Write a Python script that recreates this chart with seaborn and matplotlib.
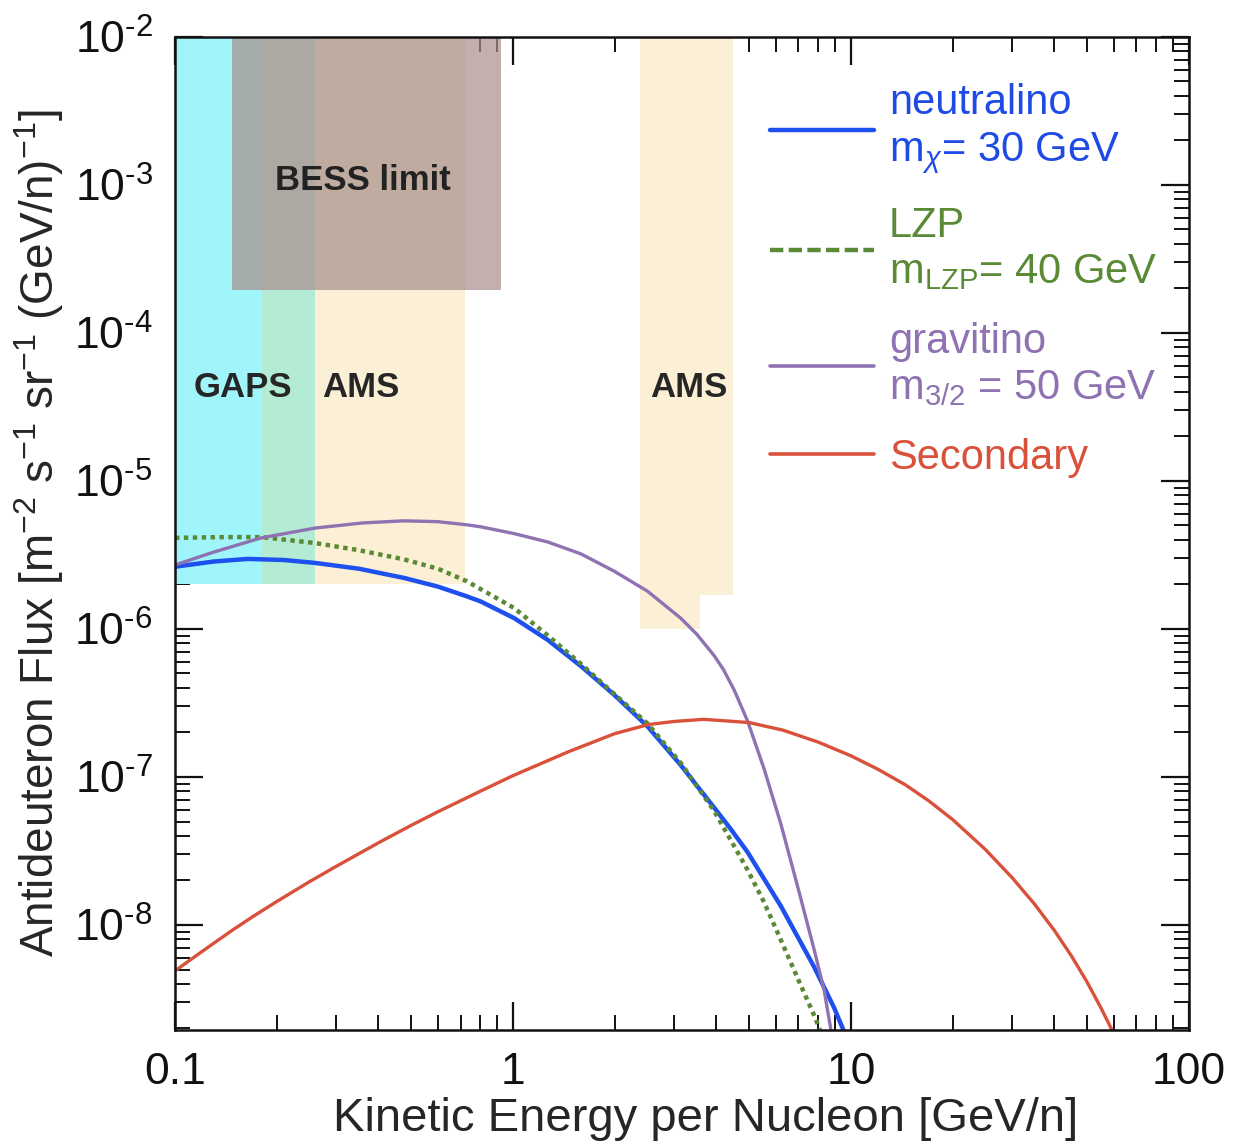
import matplotlib
matplotlib.use('Agg')
import matplotlib.pyplot as plt
from matplotlib.lines import Line2D
from matplotlib.ticker import FixedLocator, FixedFormatter
import seaborn as sns
import pandas as pd

sns.set_theme(style='ticks')
plt.rcParams['font.family'] = ['Liberation Sans', 'DejaVu Sans']
plt.rcParams['mathtext.fontset'] = 'custom'
plt.rcParams['mathtext.rm'] = 'Liberation Sans'
plt.rcParams['mathtext.it'] = 'Liberation Sans:italic'

# curves (kinetic energy per nucleon [GeV/n], flux)
neutralino_x = [0.1, 0.13, 0.164, 0.21, 0.26, 0.35, 0.476, 0.6, 0.73, 0.804, 1.01, 1.27,
                1.59, 1.99, 2.5, 3.14, 3.94, 4.41, 4.95, 6.21, 7.79, 8.93, 9.5]
neutralino_y = [2.63e-6, 2.85e-6, 2.97e-6, 2.92e-6, 2.79e-6, 2.55e-6, 2.21e-6, 1.93e-6,
                1.66e-6, 1.53e-6, 1.18e-6, 8.4e-7, 5.6e-7, 3.6e-7, 2.2e-7, 1.2e-7,
                6.2e-8, 4.45e-8, 3.1e-8, 1.34e-8, 5.2e-9, 2.75e-9, 1.96e-9]

lzp_x = [0.1, 0.14, 0.18, 0.26, 0.35, 0.476, 0.6, 0.73, 1.01, 1.27, 1.59, 1.99, 2.5,
         3.14, 3.94, 4.41, 4.95, 5.54, 6.21, 6.95, 7.79, 8.1]
lzp_y = [4.12e-6, 4.17e-6, 4.17e-6, 3.8e-6, 3.4e-6, 2.95e-6, 2.55e-6, 2.1e-6, 1.38e-6,
         9.0e-7, 5.8e-7, 3.65e-7, 2.3e-7, 1.24e-7, 5.9e-8, 3.75e-8, 2.35e-8, 1.42e-8,
         7.9e-9, 4.4e-9, 2.45e-9, 1.96e-9]

gravitino_x = [0.1, 0.13, 0.18, 0.26, 0.36, 0.476, 0.6, 0.73, 0.804, 1.01, 1.27, 1.59,
               1.99, 2.5, 3.14, 3.5, 3.94, 4.2, 4.52, 4.95, 5.54, 6.21, 6.95, 7.79, 8.34, 8.73]
gravitino_y = [2.7e-6, 3.3e-6, 4.12e-6, 4.8e-6, 5.2e-6, 5.37e-6, 5.3e-6, 5.05e-6, 4.89e-6,
               4.4e-6, 3.86e-6, 3.21e-6, 2.46e-6, 1.8e-6, 1.18e-6, 9.2e-7, 6.6e-7, 5.3e-7,
               3.85e-7, 2.38e-7, 1.13e-7, 4.8e-8, 1.84e-8, 6.8e-9, 3.6e-9, 1.96e-9]

secondary_x = [0.1, 0.12, 0.1476, 0.17, 0.2, 0.25, 0.3, 0.4, 0.5, 0.6, 0.8, 1.0, 1.46, 2.0,
               2.52, 3.0, 3.67, 5.0, 6.3, 8.0, 10, 12, 14.5, 17, 20, 25, 30, 35, 40, 45,
               50, 55, 59.2]
secondary_y = [4.9e-9, 6.6e-9, 9.2e-9, 1.14e-8, 1.44e-8, 1.96e-8, 2.49e-8, 3.59e-8, 4.71e-8,
               5.82e-8, 8.0e-8, 1.02e-7, 1.48e-7, 1.96e-7, 2.26e-7, 2.37e-7, 2.45e-7,
               2.33e-7, 2.07e-7, 1.72e-7, 1.39e-7, 1.13e-7, 8.85e-8, 6.9e-8, 5.16e-8,
               3.24e-8, 2.09e-8, 1.38e-8, 9.2e-9, 6.16e-9, 4.12e-9, 2.75e-9, 1.96e-9]

# sensitivity regions: (x_min, x_max, flux_min, flux_max)
gaps_band = (0.1, 0.259, 2.0e-6, 1e-2)
ams_low_band = (0.181, 0.72, 2.0e-6, 1e-2)
ams_high_bands = [(2.38, 3.57, 1.0e-6, 1e-2), (3.57, 4.48, 1.7e-6, 1e-2)]
bess_band = (0.147, 0.92, 1.95e-4, 1e-2)

x_lim = (0.1, 100)
y_lim = (1.96e-9, 1e-2)
x_ticks = [0.1, 1, 10, 100]
x_ticklabels = ['0.1', '1', '10', '100']
y_ticks = [1e-8, 1e-7, 1e-6, 1e-5, 1e-4, 1e-3, 1e-2]
y_ticklabels = ['10$^{\\text{-8}}$', '10$^{\\text{-7}}$', '10$^{\\text{-6}}$', '10$^{\\text{-5}}$',
                '10$^{\\text{-4}}$', '10$^{\\text{-3}}$', '10$^{\\text{-2}}$']

c_blue = '#1d50ee'
c_green = '#5a8a35'
c_purple = '#8e72b2'
c_red = '#d9513a'

fig = plt.figure(figsize=(12.5, 11.48), dpi=100)
ax = fig.add_axes([0.14, 0.103, 0.811, 0.865])
ax.set_xscale('log')
ax.set_yscale('log')


def band(b, color, **kw):
    ax.fill_between([b[0], b[1]], b[2], b[3], color=color, lw=0, zorder=1, **kw)


band(gaps_band, '#9ff5f9')
band(ams_low_band, '#fbf0d5')
overlap = (max(gaps_band[0], ams_low_band[0]), min(gaps_band[1], ams_low_band[1]),
           max(gaps_band[2], ams_low_band[2]), gaps_band[3])
band(overlap, '#b3ebd5')
for b in ams_high_bands:
    band(b, '#fbf0d5')
band(bess_band, '#a88e8c', alpha=0.7)

curves = [
    (neutralino_x, neutralino_y, c_blue, 3.2, '-'),
    (lzp_x, lzp_y, c_green, 3.2, (0, (1, 1))),
    (gravitino_x, gravitino_y, c_purple, 2.4, '-'),
    (secondary_x, secondary_y, c_red, 2.4, '-'),
]
for xs, ys, col, lw, ls in curves:
    df = pd.DataFrame({'x': xs, 'y': ys})
    sns.lineplot(data=df, x='x', y='y', color=col, lw=lw, linestyle=ls, ax=ax,
                 sort=False, zorder=3)

ax.text(0.159, 4.26e-5, 'GAPS', fontsize=25, fontweight='bold', ha='center', va='center', zorder=4)
ax.text(0.355, 4.26e-5, 'AMS', fontsize=25, fontweight='bold', ha='center', va='center', zorder=4)
ax.text(3.32, 4.26e-5, 'AMS', fontsize=25, fontweight='bold', ha='center', va='center', zorder=4)
ax.text(0.36, 1.07e-3, 'BESS limit', fontsize=25, fontweight='bold', ha='center', va='center',
        color='#222222', zorder=4)

handles = [
    Line2D([], [], color=c_blue, lw=3.2),
    Line2D([], [], color=c_green, lw=3.2, dashes=(3, 1.2)),
    Line2D([], [], color=c_purple, lw=2.6),
    Line2D([], [], color=c_red, lw=2.6),
]
labels = [
    'neutralino\n$\\mathrm{m}_{\\chi}$= 30 GeV',
    'LZP\n$\\mathrm{m}_{\\mathrm{LZP}}$= 40 GeV',
    'gravitino\n$\\mathrm{m}_{3/2}$ = 50 GeV',
    'Secondary',
]
ax.legend(handles, labels, loc='upper left', bbox_to_anchor=(0.587, 0.953), frameon=False,
          fontsize=30, handlelength=2.5, handletextpad=0.35, labelspacing=0.72,
          borderpad=0, borderaxespad=0,
          labelcolor=['#1e4be6', c_green, c_purple, c_red])

ax.set_xlim(*x_lim)
ax.set_ylim(*y_lim)
ax.set_xlabel('Kinetic Energy per Nucleon [GeV/n]', fontsize=34)
ax.xaxis.set_label_coords(0.523, -0.068)
ax.set_ylabel('Antideuteron Flux [m$^{-2}$ s$^{-1}$ sr$^{-1}$ (GeV/n)$^{-1}$]', fontsize=33,
              labelpad=6)
ax.set_xticks(x_ticks)
ax.set_xticklabels(x_ticklabels)
ax.yaxis.set_major_locator(FixedLocator(y_ticks))
ax.yaxis.set_major_formatter(FixedFormatter(y_ticklabels))
ax.tick_params(which='both', direction='in', top=True, right=True, colors='#111111',
               labelsize=32)
ax.tick_params(which='major', length=20, width=1.6, pad=16)
ax.tick_params(which='minor', length=11, width=1.4)
for s in ax.spines.values():
    s.set_linewidth(1.8)
    s.set_color('#111111')
    s.set_zorder(5)

fig.savefig('out.png', dpi=100)
